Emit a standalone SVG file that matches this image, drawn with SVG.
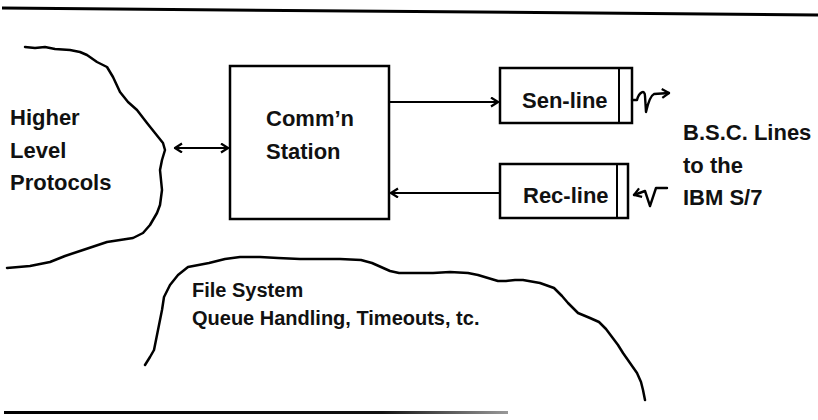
<svg xmlns="http://www.w3.org/2000/svg" width="818" height="420" viewBox="0 0 818 420">
<style>
.t{font-family:"Liberation Sans",Arial,sans-serif;font-weight:bold;font-size:22px;fill:#111}
.s{font-size:20px}
.box{fill:#fff;stroke:#000;stroke-width:2.5}
.ln{fill:none;stroke:#000;stroke-width:2;stroke-linejoin:round;stroke-linecap:round}
.cl{fill:none;stroke:#000;stroke-width:2.5;stroke-linejoin:round;stroke-linecap:round}
.rule{stroke:#000;stroke-width:3;fill:none}
</style>
<defs>
<marker id="ah" markerWidth="12" markerHeight="12" refX="8" refY="5" orient="auto-start-reverse" markerUnits="userSpaceOnUse">
<path d="M1,0.5 L8,5 L1,9.5" fill="none" stroke="#000" stroke-width="2.2" stroke-linejoin="round"/>
</marker>
<linearGradient id="fade" x1="0" y1="0" x2="1" y2="0">
<stop offset="0" stop-color="#000"/>
<stop offset="0.75" stop-color="#111"/>
<stop offset="1" stop-color="#999"/>
</linearGradient>
</defs>
<rect width="818" height="420" fill="#fff"/>
<line class="rule" x1="2" y1="8" x2="818" y2="15"/>
<rect x="4" y="411" width="504" height="3" fill="url(#fade)"/>

<g id="higher-level-protocols">
<polyline class="cl" points="25,47 35,48 45,47 55,49 70,50 80,52 87,55 97,62 107,67 113,77 120,92 128,102 137,110 147,123 155,133 163,143 165,150 162,160 160,170 162,190 160,205 157,213 150,225 143,233 133,238 120,240 107,242 95,246 83,250 65,256 50,262 30,266 7,268"/>
<text class="t" x="10" y="125">Higher</text>
<text class="t" x="10" y="158">Level</text>
<text class="t" x="10" y="190">Protocols</text>
</g>

<g id="file-system">
<polyline class="cl" points="145,365 150,357 154,350 158,330 162,310 164,297 170,285 178,275 188,267 209,263 225,259 240,257 260,257 278,258 300,259 319,259 340,259 361,260 372,263 381,267 390,271 399,273 415,273 433,273 450,272 468,273 478,275 488,278 498,281 506,281 515,280 523,280 540,283 554,288 562,296 568,303 578,313 590,318 599,322 606,329 612,337 618,345 623,353 630,363 637,373 641,382 643,390 645,400"/>
<text class="t s" x="192" y="297">File System</text>
<text class="t s" x="192" y="325">Queue Handling, Timeouts, tc.</text>
</g>

<g id="comm-station">
<rect class="box" x="230" y="66" width="159" height="153"/>
<text class="t" x="266" y="126">Comm’n</text>
<text class="t" x="266" y="159">Station</text>
</g>

<g id="sen-line">
<rect class="box" x="500" y="68" width="132" height="55"/>
<line class="ln" x1="619" y1="68" x2="619" y2="123"/>
<text class="t" x="522" y="108">Sen-line</text>
</g>

<g id="rec-line">
<rect class="box" x="500" y="164" width="128" height="54"/>
<line class="ln" x1="617" y1="164" x2="617" y2="218"/>
<text class="t" x="523" y="203">Rec-line</text>
</g>

<g id="bsc-lines">
<text class="t" x="683" y="140">B.S.C. Lines</text>
<text class="t" x="683" y="173">to the</text>
<text class="t" x="683" y="205">IBM S/7</text>
</g>

<g id="connectors">
<line class="ln" x1="175" y1="148" x2="228" y2="148" marker-start="url(#ah)" marker-end="url(#ah)"/>
<line class="ln" x1="389" y1="102" x2="498" y2="102" marker-end="url(#ah)"/>
<line class="ln" x1="500" y1="193" x2="391" y2="193" marker-end="url(#ah)"/>
<path class="ln" style="stroke-width:2.4" d="M632,100 L637,100 C639,92 645,89 645,96 L646,112 C648,103 650,96 654,94 L669,93" marker-end="url(#ah)"/>
<path class="ln" style="stroke-width:2.4" d="M667,188 L656,188 L650,206 L645,191 L634,195" marker-end="url(#ah)"/>
</g>
</svg>
